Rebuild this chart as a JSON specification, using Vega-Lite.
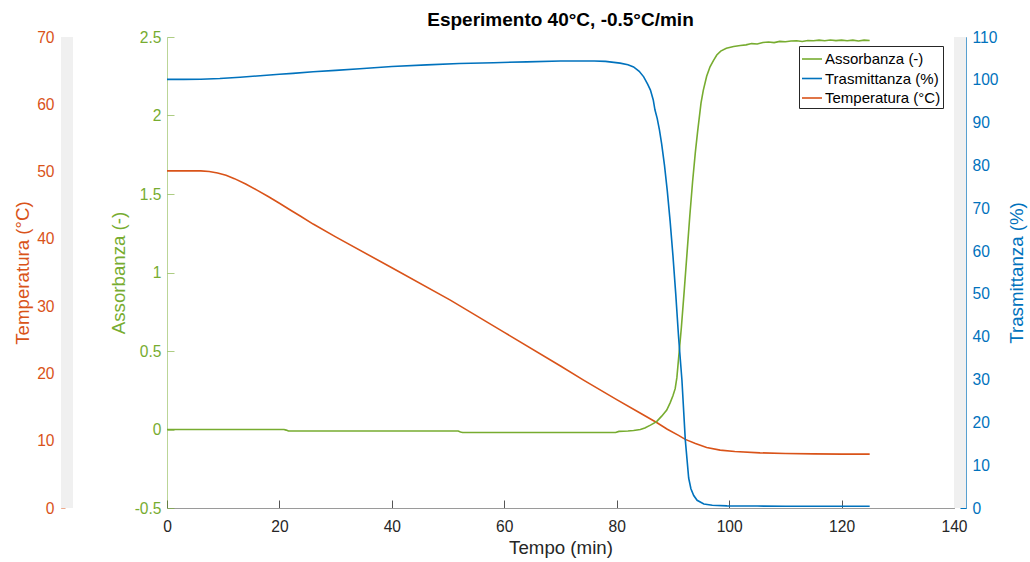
{
  "$schema": "https://vega.github.io/schema/vega-lite/v6.json",
  "width": 787,
  "height": 471,
  "autosize": {"type": "none"},
  "padding": {"left": 167, "top": 37, "right": 76, "bottom": 54},
  "background": "white",
  "title": {"text": "Esperimento 40°C, -0.5°C/min", "font": "Liberation Sans", "fontSize": 19, "fontWeight": "bold", "color": "#000000", "anchor": "middle", "offset": 0},
  "config": {
    "view": {"stroke": null},
    "axis": {"grid": false, "labelFont": "Liberation Sans", "titleFont": "Liberation Sans", "labelFontSize": 15.6, "titleFontSize": 18.7, "titleFontWeight": "normal"}
  },
  "datasets": {
    "temperatura": [
      {"t": 0, "v": 50.1}, {"t": 3, "v": 50.1}, {"t": 6, "v": 50.1}, {"t": 7.5, "v": 50.0}, {"t": 9, "v": 49.8},
      {"t": 10.5, "v": 49.45}, {"t": 12, "v": 48.95}, {"t": 14, "v": 48.15}, {"t": 16, "v": 47.25}, {"t": 18, "v": 46.3},
      {"t": 20, "v": 45.3}, {"t": 22, "v": 44.25}, {"t": 23.7, "v": 43.4}, {"t": 26, "v": 42.2}, {"t": 30, "v": 40.3},
      {"t": 40, "v": 35.7}, {"t": 50.4, "v": 30.9}, {"t": 60, "v": 26.1}, {"t": 70, "v": 21.1}, {"t": 74.1, "v": 19.0},
      {"t": 80, "v": 16.1}, {"t": 84, "v": 14.2}, {"t": 87.1, "v": 12.7}, {"t": 89, "v": 11.7}, {"t": 91, "v": 10.8},
      {"t": 92.2, "v": 10.2}, {"t": 94, "v": 9.6}, {"t": 96, "v": 9.0}, {"t": 98.4, "v": 8.6}, {"t": 101, "v": 8.4},
      {"t": 105.5, "v": 8.2}, {"t": 110, "v": 8.1}, {"t": 115, "v": 8.05}, {"t": 120, "v": 8.0}, {"t": 125, "v": 8.0}
    ],
    "assorbanza": [
      {"t": 0, "v": 0.0}, {"t": 10, "v": 0.0}, {"t": 20.8, "v": 0.0}, {"t": 21.2, "v": -0.004}, {"t": 21.6, "v": -0.01},
      {"t": 30, "v": -0.01}, {"t": 40, "v": -0.01}, {"t": 51.8, "v": -0.01}, {"t": 52.2, "v": -0.016}, {"t": 52.6, "v": -0.019},
      {"t": 60, "v": -0.019}, {"t": 70, "v": -0.019}, {"t": 79.8, "v": -0.019}, {"t": 80.4, "v": -0.012}, {"t": 82, "v": -0.01},
      {"t": 83, "v": -0.006}, {"t": 84.2, "v": 0.0}, {"t": 85, "v": 0.01}, {"t": 86, "v": 0.028}, {"t": 87.1, "v": 0.05},
      {"t": 88, "v": 0.085}, {"t": 88.9, "v": 0.124}, {"t": 89.5, "v": 0.17}, {"t": 90, "v": 0.215}, {"t": 90.4, "v": 0.26},
      {"t": 90.7, "v": 0.33}, {"t": 91, "v": 0.45}, {"t": 91.5, "v": 0.65}, {"t": 92, "v": 0.88}, {"t": 92.5, "v": 1.12},
      {"t": 93, "v": 1.36}, {"t": 93.5, "v": 1.58}, {"t": 94, "v": 1.77}, {"t": 94.4, "v": 1.9}, {"t": 95, "v": 2.08},
      {"t": 95.4, "v": 2.16}, {"t": 96, "v": 2.25}, {"t": 96.6, "v": 2.31}, {"t": 97.2, "v": 2.35}, {"t": 97.8, "v": 2.385},
      {"t": 98.5, "v": 2.41}, {"t": 99.5, "v": 2.428}, {"t": 100.8, "v": 2.44}, {"t": 102, "v": 2.446}, {"t": 103, "v": 2.45},
      {"t": 104, "v": 2.458}, {"t": 105, "v": 2.455}, {"t": 106, "v": 2.465}, {"t": 107, "v": 2.468}, {"t": 108, "v": 2.464},
      {"t": 109, "v": 2.472}, {"t": 110, "v": 2.47}, {"t": 111, "v": 2.475}, {"t": 112, "v": 2.476}, {"t": 113, "v": 2.471},
      {"t": 114, "v": 2.478}, {"t": 115, "v": 2.476}, {"t": 116, "v": 2.48}, {"t": 117, "v": 2.476}, {"t": 118, "v": 2.481},
      {"t": 119, "v": 2.477}, {"t": 120, "v": 2.48}, {"t": 121, "v": 2.476}, {"t": 122, "v": 2.48}, {"t": 123, "v": 2.475},
      {"t": 124, "v": 2.48}, {"t": 125, "v": 2.478}
    ],
    "trasmittanza": [
      {"t": 0, "v": 100.1}, {"t": 3, "v": 100.1}, {"t": 6, "v": 100.15}, {"t": 9.4, "v": 100.3}, {"t": 13, "v": 100.6},
      {"t": 16, "v": 100.9}, {"t": 20, "v": 101.3}, {"t": 22.4, "v": 101.5}, {"t": 26, "v": 101.9}, {"t": 30, "v": 102.2},
      {"t": 34.3, "v": 102.6}, {"t": 40, "v": 103.1}, {"t": 46.2, "v": 103.5}, {"t": 52, "v": 103.8}, {"t": 58.1, "v": 104.0},
      {"t": 64, "v": 104.2}, {"t": 70, "v": 104.4}, {"t": 76, "v": 104.4}, {"t": 78, "v": 104.3}, {"t": 80.6, "v": 103.9},
      {"t": 82, "v": 103.5}, {"t": 83, "v": 103.0}, {"t": 84, "v": 102.0}, {"t": 84.8, "v": 100.7}, {"t": 85.5, "v": 99.0},
      {"t": 86, "v": 97.6}, {"t": 86.5, "v": 95.3}, {"t": 86.8, "v": 93.0}, {"t": 87.2, "v": 91.0}, {"t": 87.6, "v": 88.3},
      {"t": 88, "v": 85.0}, {"t": 88.5, "v": 80.0}, {"t": 89, "v": 74.0}, {"t": 89.5, "v": 67.0}, {"t": 90, "v": 59.0},
      {"t": 90.5, "v": 50.0}, {"t": 91, "v": 40.0}, {"t": 91.6, "v": 29.9}, {"t": 92.2, "v": 15.9}, {"t": 92.8, "v": 7.0},
      {"t": 93.2, "v": 4.5}, {"t": 93.7, "v": 2.9}, {"t": 94.3, "v": 1.8}, {"t": 95.5, "v": 0.95}, {"t": 97, "v": 0.65},
      {"t": 99.6, "v": 0.5}, {"t": 105, "v": 0.45}, {"t": 110, "v": 0.42}, {"t": 115, "v": 0.4}, {"t": 120, "v": 0.4},
      {"t": 125, "v": 0.4}
    ]
  },
  "resolve": {"scale": {"y": "independent"}},
  "layer": [
    {
      "layer": [
        {
          "data": {"values": [{}]},
          "mark": {"type": "rect", "color": "#f0f0f0"},
          "encoding": {
            "x": {"datum": -18.86, "type": "quantitative", "scale": {"domain": [0, 140], "nice": false, "zero": false},
              "axis": {"title": "Tempo (min)", "values": [0, 20, 40, 60, 80, 100, 120, 140], "labelFlush": false, "labelColor": "#262626", "titleColor": "#262626", "domainColor": "#9a9a9a", "tickColor": "#555555", "tickSize": -8, "labelPadding": 19, "titlePadding": 4}},
            "x2": {"datum": -16.73},
            "y": {"datum": 0, "type": "quantitative"},
            "y2": {"datum": 70}
          }
        },
        {
          "data": {"values": [{}]},
          "mark": {"type": "rect", "color": "#f0f0f0"},
          "encoding": {
            "x": {"datum": 140, "type": "quantitative", "scale": {"domain": [0, 140], "nice": false, "zero": false},
              "axis": {"title": "Tempo (min)", "values": [0, 20, 40, 60, 80, 100, 120, 140], "labelFlush": false, "labelColor": "#262626", "titleColor": "#262626", "domainColor": "#9a9a9a", "tickColor": "#555555", "tickSize": -8, "labelPadding": 19, "titlePadding": 4}},
            "x2": {"datum": 142.2},
            "y": {"datum": 0, "type": "quantitative"},
            "y2": {"datum": 70}
          }
        },
        {
          "data": {"name": "temperatura"},
          "mark": {"type": "line", "strokeWidth": 1.6},
          "encoding": {
            "x": {"field": "t", "type": "quantitative", "scale": {"domain": [0, 140], "nice": false, "zero": false},
              "axis": {"title": "Tempo (min)", "values": [0, 20, 40, 60, 80, 100, 120, 140], "labelFlush": false, "labelColor": "#262626", "titleColor": "#262626", "domainColor": "#9a9a9a", "tickColor": "#555555", "tickSize": -8, "labelPadding": 19, "titlePadding": 4}},
            "y": {
              "field": "v", "type": "quantitative",
              "scale": {"domain": [0, 70], "nice": false, "zero": false},
              "axis": {"orient": "left", "offset": 106, "title": "Temperatura (°C)", "values": [0, 10, 20, 30, 40, 50, 60, 70], "labelColor": "#D95319", "titleColor": "#D95319", "domainColor": "#D95319", "domainOpacity": 0.45, "tickColor": "#D95319", "tickOpacity": 0.5, "tickSize": -4, "labelPadding": 11, "titlePadding": 4}
            },
            "color": {
              "datum": "Temperatura (°C)", "type": "nominal",
              "scale": {"domain": ["Assorbanza (-)", "Trasmittanza (%)", "Temperatura (°C)"], "range": ["#77AC30", "#0072BD", "#D95319"]},
              "legend": {"orient": "none", "legendX": 632, "legendY": 9, "title": null, "symbolType": "stroke", "symbolSize": 400, "symbolStrokeWidth": 1.6, "labelFont": "Liberation Sans", "labelFontSize": 15, "labelColor": "#000000", "strokeColor": "#262626", "fillColor": "white", "padding": 2, "rowPadding": 0.5, "labelOffset": 2}
            }
          }
        }
      ]
    },
    {
      "data": {"name": "assorbanza"},
      "mark": {"type": "line", "strokeWidth": 1.6},
      "encoding": {
        "x": {"field": "t", "type": "quantitative", "scale": {"domain": [0, 140], "nice": false, "zero": false},
          "axis": {"title": "Tempo (min)", "values": [0, 20, 40, 60, 80, 100, 120, 140], "labelFlush": false, "labelColor": "#262626", "titleColor": "#262626", "domainColor": "#9a9a9a", "tickColor": "#555555", "tickSize": -8, "labelPadding": 19, "titlePadding": 4}},
        "y": {
          "field": "v", "type": "quantitative",
          "scale": {"domain": [-0.5, 2.5], "nice": false, "zero": false},
          "axis": {"orient": "left", "offset": 0, "title": "Assorbanza (-)", "values": [-0.5, 0, 0.5, 1, 1.5, 2, 2.5], "labelExpr": "toString(datum.value)", "labelColor": "#77AC30", "titleColor": "#77AC30", "domainColor": "#77AC30", "domainOpacity": 0.5, "tickColor": "#77AC30", "tickOpacity": 0.6, "tickSize": -7, "labelPadding": 13, "titlePadding": 6}
        },
        "color": {"datum": "Assorbanza (-)", "type": "nominal"}
      }
    },
    {
      "data": {"name": "trasmittanza"},
      "mark": {"type": "line", "strokeWidth": 1.6},
      "encoding": {
        "x": {"field": "t", "type": "quantitative", "scale": {"domain": [0, 140], "nice": false, "zero": false},
          "axis": {"title": "Tempo (min)", "values": [0, 20, 40, 60, 80, 100, 120, 140], "labelFlush": false, "labelColor": "#262626", "titleColor": "#262626", "domainColor": "#9a9a9a", "tickColor": "#555555", "tickSize": -8, "labelPadding": 19, "titlePadding": 4}},
        "y": {
          "field": "v", "type": "quantitative",
          "scale": {"domain": [0, 110], "nice": false, "zero": false},
          "axis": {"orient": "right", "offset": 12, "title": "Trasmittanza (%)", "titleAngle": 270, "values": [0, 10, 20, 30, 40, 50, 60, 70, 80, 90, 100, 110], "labelColor": "#0072BD", "titleColor": "#0072BD", "domainColor": "#0072BD", "tickColor": "#0072BD", "tickSize": -6, "labelPadding": 12, "titlePadding": 28}
        },
        "color": {"datum": "Trasmittanza (%)", "type": "nominal"}
      }
    }
  ]
}
